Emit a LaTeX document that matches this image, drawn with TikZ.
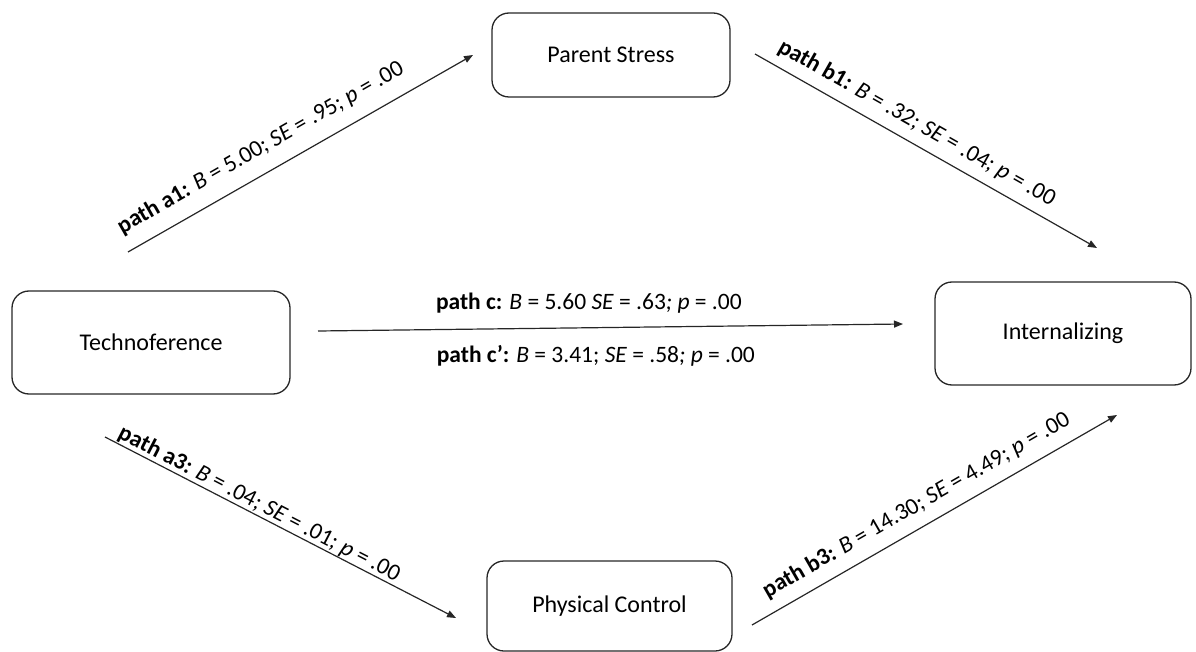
\documentclass[tikz,border=0pt]{standalone}
\usepackage{fontspec}
\setmainfont{Carlito}
\usetikzlibrary{arrows.meta}
\definecolor{ink}{HTML}{262626}
\begin{document}
\begin{tikzpicture}[x=1pt, y=-1pt,
  every node/.style={font=\fontsize{24}{28}\selectfont, text=black},
  varbox/.style={draw=ink, line width=1.3pt, rounded corners=17pt, inner sep=0pt, align=center},
  arr/.style={draw=ink, line width=1.2pt, -{Triangle[length=9pt, width=7pt]}},
  lab/.style={sloped, anchor=south, inner xsep=0pt, font=\fontsize{23.5}{28}\selectfont}
]
\useasboundingbox (0,0) rectangle (1196,652);

% variables
\node[varbox, minimum width=238pt, minimum height=84pt]  (ps)   at (611,55)    {Parent Stress};
\node[varbox, minimum width=278pt, minimum height=103pt] (tech) at (151,342.5) {Technoference};
\node[varbox, minimum width=256pt, minimum height=103pt] (int)  at (1063,333.5){Internalizing};
\node[varbox, minimum width=245pt, minimum height=90pt]  (pc)   at (609.5,606) {Physical Control};

% arrow end points
\coordinate (a1s) at (128,252);  \coordinate (a1e) at (473,55);
\coordinate (b1s) at (755,54);   \coordinate (b1e) at (1097,248);
\coordinate (cs)  at (318,331);  \coordinate (ce)  at (903,324);
\coordinate (a3s) at (105,437);  \coordinate (a3e) at (456,618);
\coordinate (b3s) at (752,625);  \coordinate (b3e) at (1117,415);

% paths
\draw[arr] (a1s) -- node[lab, pos=0.42, inner ysep=14pt]
  {\textbf{path a1:} \textit{B} = 5.00; \textit{SE} = .95; \textit{p} = .00} (a1e);
\draw[arr] (b1s) -- node[lab, pos=0.445, inner ysep=9pt]
  {\textbf{path b1:} \textit{B} = .32; \textit{SE} = .04; \textit{p} = .00} (b1e);
\draw[arr] (a3s) -- node[lab, pos=0.425, inner ysep=0.5pt]
  {\textbf{path a3:} \textit{B} = .04; \textit{SE} = .01; \textit{p} = .00} (a3e);
\draw[arr] (b3s) -- node[lab, pos=0.48, inner ysep=11pt]
  {\textbf{path b3:} \textit{B} = 14.30; \textit{SE} = 4.49; \textit{p} = .00} (b3e);
\draw[arr] (cs) -- node[pos=0.463, anchor=south, inner ysep=14pt, font=\fontsize{23.5}{28}\selectfont]
  {\textbf{path c:} \textit{B} = 5.60 \textit{SE} = .63\textit{;} \textit{p} = .00}
  node[pos=0.475, anchor=north, inner ysep=17pt, font=\fontsize{23.5}{28}\selectfont]
  {\textbf{path c’:} \textit{B} = 3.41; \textit{SE} = .58\textit{;} \textit{p} = .00} (ce);
\end{tikzpicture}
\end{document}
